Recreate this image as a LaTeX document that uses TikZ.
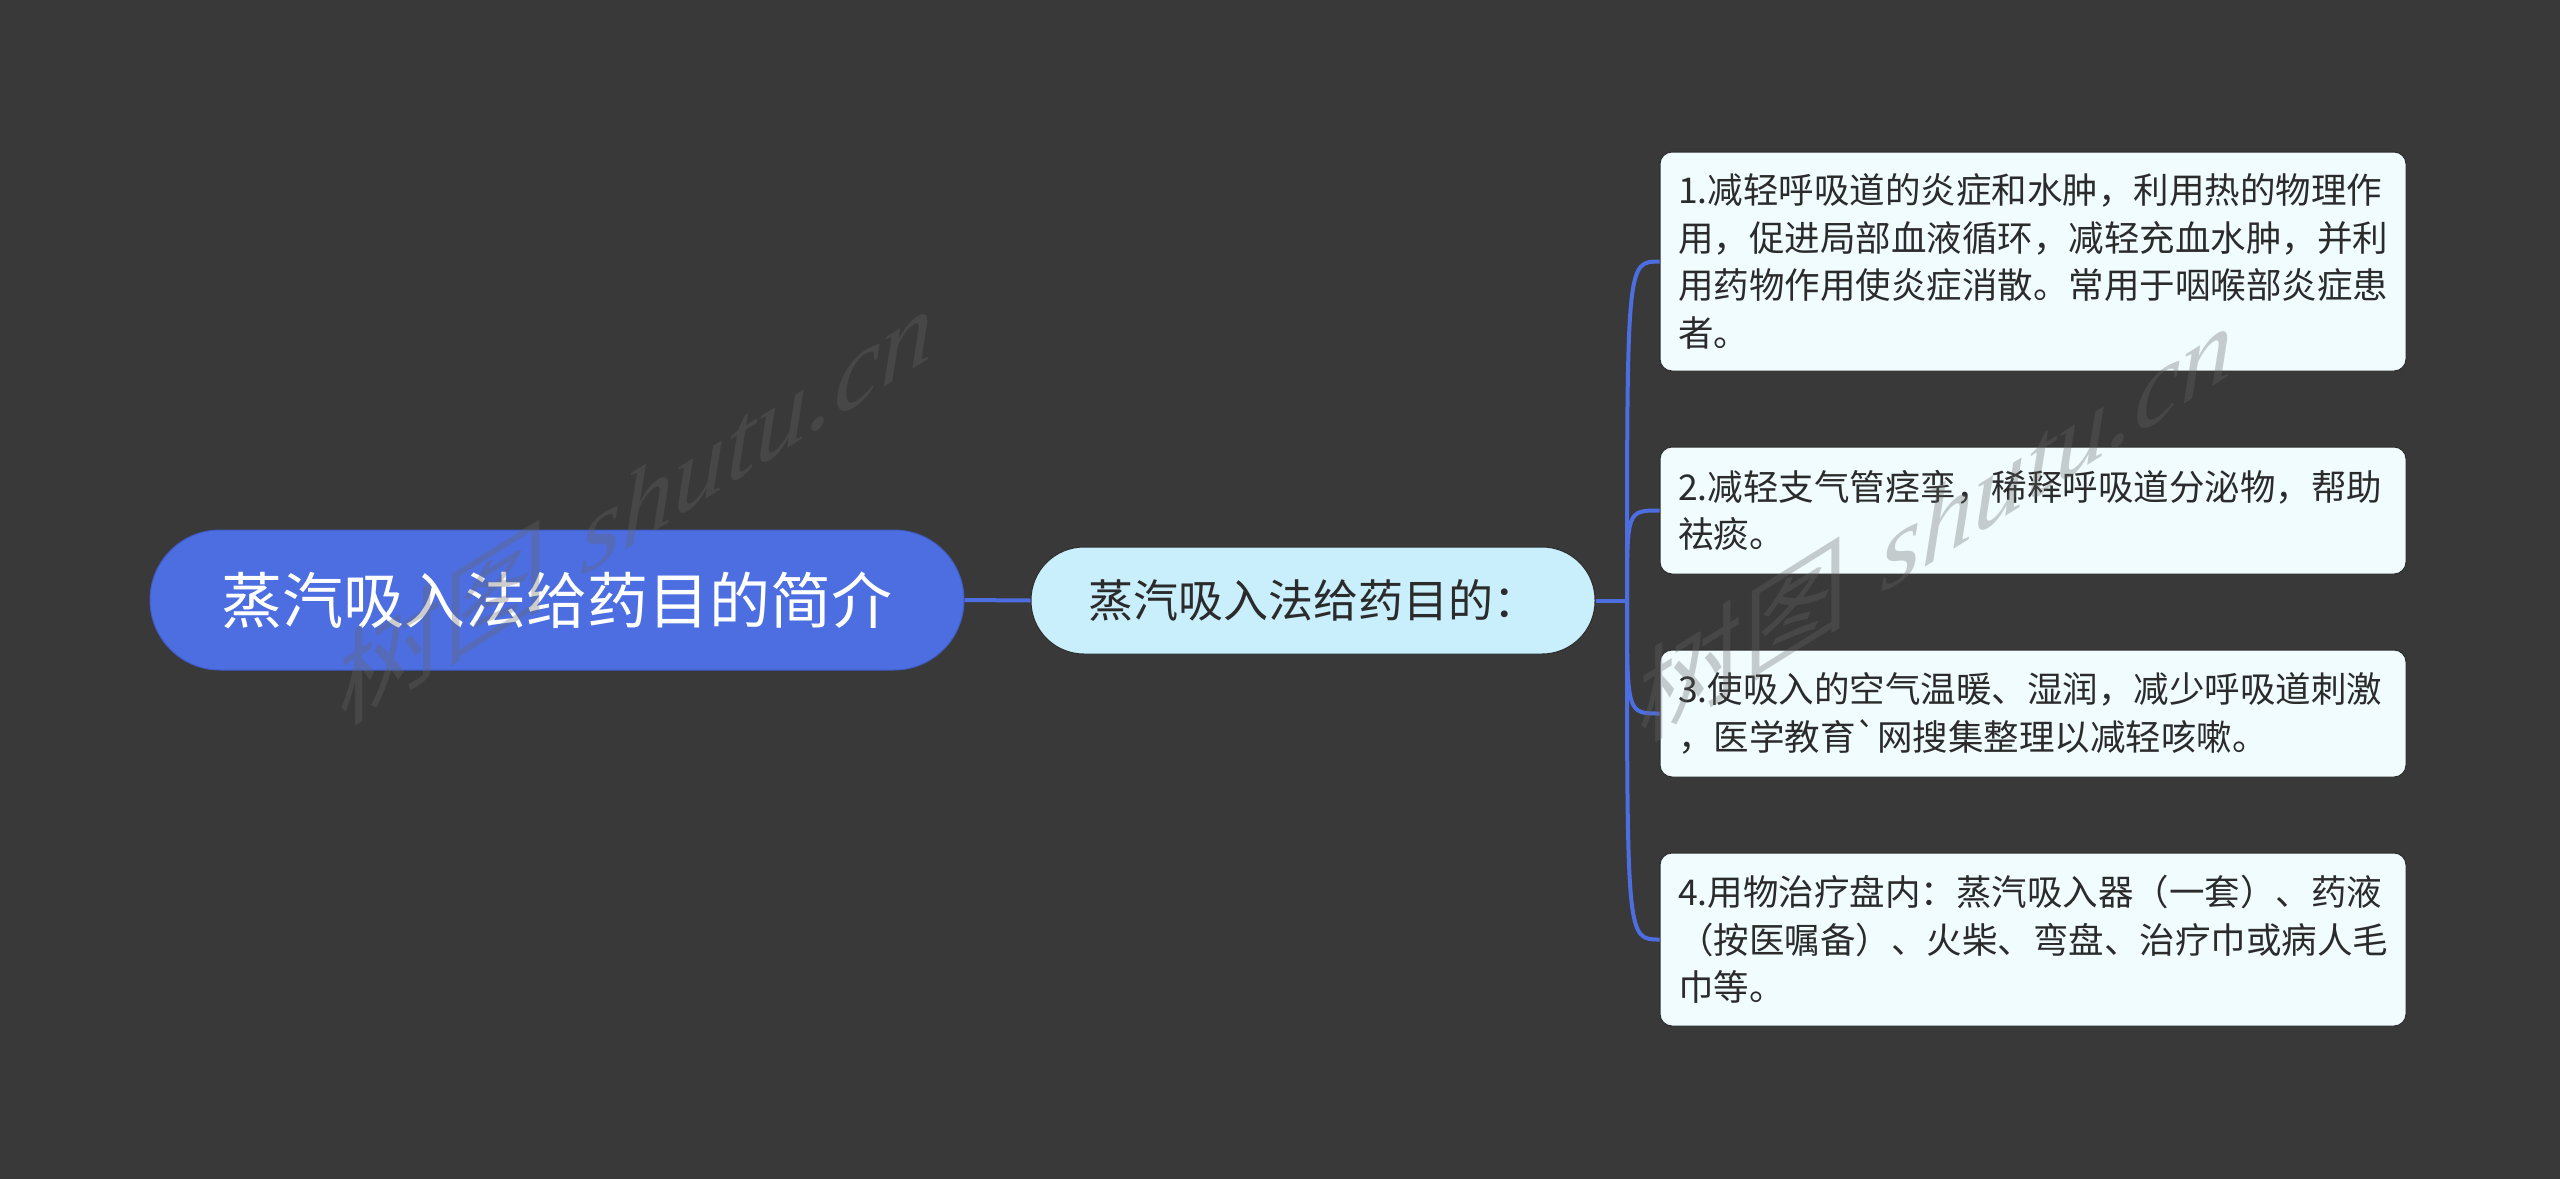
\documentclass[tikz,border=0pt]{standalone}
\usepackage{fontspec}
\newfontfamily\cjk[Ligatures=TeXOff]{Noto Sans CJK SC}
\newfontfamily\wmlat{Liberation Serif}
\definecolor{bgc}{HTML}{3A393A}
\definecolor{rootblue}{HTML}{4D6EE0}
\definecolor{rootedge}{HTML}{3F5CC4}
\definecolor{linec}{HTML}{4D6EE0}
\definecolor{subfill}{HTML}{C9EEFC}
\definecolor{leaffill}{HTML}{F0FCFE}
\definecolor{edgec}{HTML}{2C2C2C}
\definecolor{textc}{HTML}{2B2B2B}
\definecolor{wmc}{HTML}{666666}
\tikzset{
  rootbox/.style={draw=rootedge, line width=0.5pt, fill=rootblue, rounded corners=35pt,
    minimum width=407pt, minimum height=70pt, inner sep=0pt, text=white,
    font=\cjk\fontsize{30.5pt}{36pt}\selectfont},
  subbox/.style={draw=edgec, line width=0.5pt, fill=subfill, rounded corners=26.5pt,
    minimum width=282pt, minimum height=53.5pt, inner sep=0pt, text=textc,
    font=\cjk\fontsize{22.5pt}{27pt}\selectfont},
  leafbox/.style={draw=edgec, line width=0.5pt, fill=leaffill, rounded corners=6pt,
    minimum width=373pt, inner xsep=9pt, inner ysep=0pt, text width=355pt, align=left,
    text=textc, font=\cjk\fontsize{17.75pt}{23.75pt}\selectfont},
  conn/.style={draw=linec, line width=2pt},
  wm/.style={text=wmc, text opacity=0.32, inner sep=0pt,
    font=\fontsize{52.5pt}{60pt}\selectfont}
}
\begin{document}
\begin{tikzpicture}[x=0.5pt,y=-0.5pt]
\path[fill=bgc] (0,0) rectangle (2560,1179);
\useasboundingbox (0,0) rectangle (2560,1179);

\node[rootbox] (root) at (557,600) {蒸汽吸入法给药目的简介};
\node[subbox] (sub) at (1313,600.5) {蒸汽吸入法给药目的：};

\node[leafbox, minimum height=109.5pt] (l1) at (2033,261.5)
  {1.减轻呼吸道的炎症和水肿，利用热的物理作\\用，促进局部血液循环，减轻充血水肿，并利\\用药物作用使炎症消散。常用于咽喉部炎症患\\者。};
\node[leafbox, minimum height=63.5pt] (l2) at (2033,510.5)
  {2.减轻支气管痉挛，稀释呼吸道分泌物，帮助\\祛痰。};
\node[leafbox, minimum height=63.5pt] (l3) at (2033,713.5)
  {3.使吸入的空气温暖、湿润，减少呼吸道刺激\\，医学教育`网搜集整理以减轻咳嗽。};
\node[leafbox, minimum height=86.5pt] (l4) at (2033,939.5)
  {4.用物治疗盘内：蒸汽吸入器（一套）、药液\\（按医嘱备）、火柴、弯盘、治疗巾或病人毛\\巾等。};

\coordinate (j) at (1627,600.5);
\draw[conn] (root.east) -- (sub.west);
\draw[conn] (sub.east) -- (j);
\foreach \b in {l1,l2,l3,l4}{
  \draw[conn] (j) .. controls (j |- \b.west) and (j |- \b.west) .. (\b.west);
}

\begin{scope}[shift={(636,503)}]
  \node[wm, yslant=0.625, transform shape] (wm1) {{\cjk 树图} {\wmlat\itshape shutu.cn}};
\end{scope}
\begin{scope}[shift={(1936,520)}]
  \node[wm, yslant=0.625, transform shape] (wm2) {{\cjk 树图} {\wmlat\itshape shutu.cn}};
\end{scope}
\end{tikzpicture}
\end{document}
